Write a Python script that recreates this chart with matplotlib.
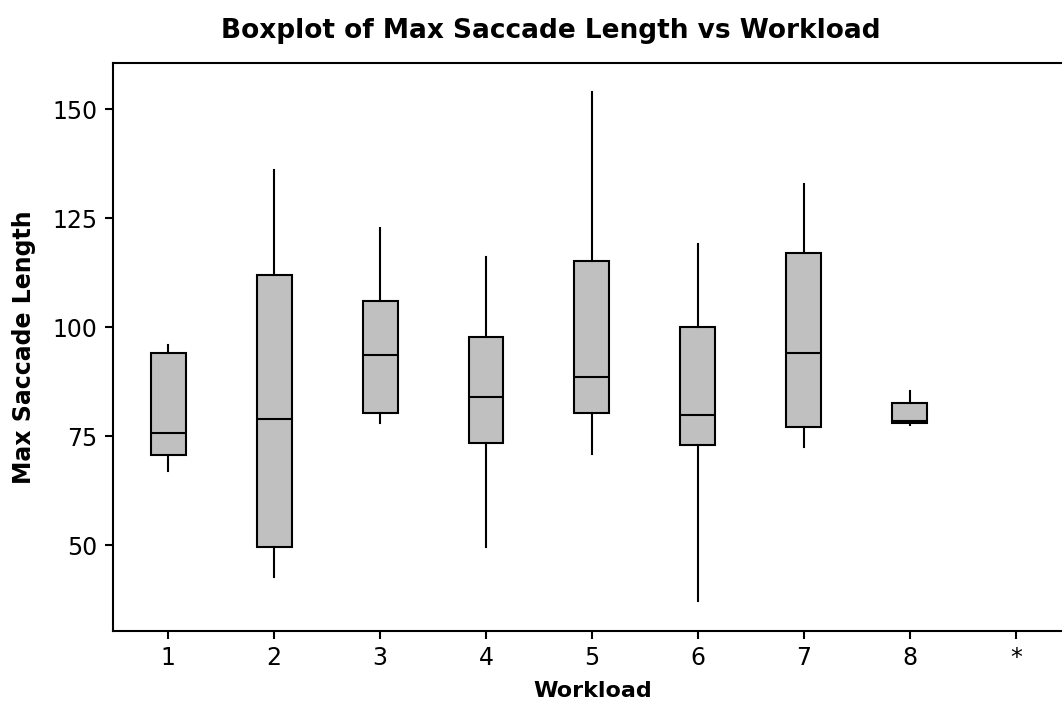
import matplotlib
matplotlib.use("Agg")
import matplotlib.pyplot as plt

# workload levels (the last slot is the missing-value column)
workload = ['1', '2', '3', '4', '5', '6', '7', '8', '*']

# five-number summaries of max saccade length per workload
low = [67.0, 42.6, 77.9, 49.5, 71.0, 37.2, 72.4, 77.5]
q1 = [70.6, 49.6, 80.3, 73.4, 80.3, 72.9, 77.1, 78.1]
med = [75.7, 78.9, 93.6, 84.0, 88.5, 79.8, 94.0, 78.4]
q3 = [94.0, 111.9, 106.0, 97.8, 115.1, 100.1, 117.0, 82.6]
high = [95.8, 135.9, 122.6, 116.1, 153.9, 119.0, 132.7, 85.4]

stats = []
for i in range(len(med)):
    stats.append({'whislo': low[i], 'q1': q1[i], 'med': med[i], 'q3': q3[i],
                  'whishi': high[i], 'fliers': []})

plt.rcParams['font.family'] = 'DejaVu Sans'

fig = plt.figure(figsize=(10.62, 7.04), dpi=100)
ax = fig.add_axes([113/1062, 1 - 631/704, (1072 - 113)/1062, (631 - 63)/704])

lw = 1.5
ax.bxp(stats, positions=range(1, len(med) + 1), widths=0.33, patch_artist=True,
       showcaps=False,
       boxprops=dict(facecolor='#c0c0c0', edgecolor='black', linewidth=lw),
       medianprops=dict(color='black', linewidth=lw),
       whiskerprops=dict(color='black', linewidth=lw))

ax.set_xlim(0.48, 9.53)
ax.set_ylim(30.3, 160.55)
ax.set_xticks(range(1, len(workload) + 1))
ax.set_xticklabels(workload)
ax.set_yticks([50, 75, 100, 125, 150])

for s in ax.spines.values():
    s.set_linewidth(lw)
ax.tick_params(direction='out', length=6, width=lw, labelsize=17, pad=5)

ax.set_xlabel('Workload', fontsize=16, fontweight='bold', labelpad=8)
ax.set_ylabel('Max Saccade Length', fontsize=17, fontweight='bold', labelpad=12)
fig.text(551/1062, 1 - 31/704, 'Boxplot of Max Saccade Length vs Workload',
         ha='center', va='center', fontsize=19, fontweight='bold')

fig.savefig('out.png', dpi=100)
